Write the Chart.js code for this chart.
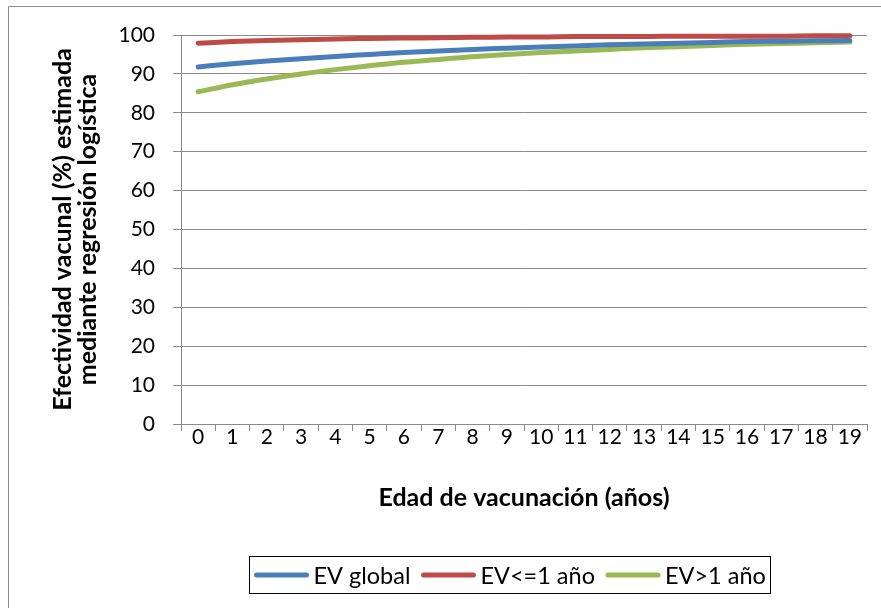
<!DOCTYPE html>
<html>
<head>
<meta charset="utf-8">
<script src="https://cdn.jsdelivr.net/npm/chart.js@4"></script>
<style>
  html, body { margin: 0; padding: 0; background: #fff; }
  #wrap { position: relative; width: 881px; height: 608px; overflow: hidden; }
  canvas { display: block; }
</style>
</head>
<body>
<div id="wrap"><canvas id="c" width="881" height="608"></canvas></div>
<script>
// ---- Data ----
const ages = ['0','1','2','3','4','5','6','7','8','9','10','11','12','13','14','15','16','17','18','19'];
const evGlobal = [91.8, 92.6, 93.3, 93.9, 94.5, 95.0, 95.5, 95.9, 96.3, 96.6, 96.9, 97.2, 97.5, 97.7, 97.9, 98.1, 98.3, 98.4, 98.5, 98.6];
const evMenorIgual1 = [97.9, 98.3, 98.6, 98.8, 99.0, 99.1, 99.2, 99.3, 99.4, 99.5, 99.5, 99.6, 99.6, 99.6, 99.7, 99.7, 99.7, 99.7, 99.8, 99.8];
const evMayor1 = [85.4, 87.2, 88.7, 90.0, 91.1, 92.1, 93.0, 93.7, 94.4, 95.0, 95.5, 95.9, 96.3, 96.7, 97.0, 97.3, 97.6, 97.8, 98.0, 98.2];
const seriesNames = ['EV global', 'EV<=1 año', 'EV>1 año'];
const yTitle = ['Efectividad vacunal (%) estimada', 'mediante regresión logística'];
const xTitle = 'Edad de vacunación (años)';

const FONT = 'Lato';
const GRID = '#8a8a8a';

const frame = {
  id: 'frame',
  beforeDraw(chart) {
    const ctx = chart.ctx;
    ctx.save();
    ctx.strokeStyle = '#8c8c8c';
    ctx.lineWidth = 1;
    ctx.beginPath();
    ctx.moveTo(8.5, 700); ctx.lineTo(8.5, 6.5); ctx.lineTo(900, 6.5);
    ctx.stroke();
    ctx.restore();
  }
};

const legendBox = {
  id: 'legendBox',
  afterDraw(chart) {
    const ctx = chart.ctx;
    ctx.save();
    ctx.font = '23.5px ' + FONT;
    const sample = 54, gap = 5, after = 11, pad = 5;
    const items = chart.data.datasets.map(d => ({ label: d.label, color: d.borderColor, w: ctx.measureText(d.label).width }));
    let total = pad;
    items.forEach((it, i) => { total += sample + gap + it.w + (i < items.length - 1 ? after : 0); });
    total += pad;
    const cx = 510, top = 556, h = 37;
    const left = Math.round(cx - total / 2) + 0.5;
    ctx.strokeStyle = '#000';
    ctx.lineWidth = 1;
    ctx.strokeRect(left, top + 0.5, Math.round(total), h);
    let x = left + pad;
    const cy = top + h / 2 + 0.5;
    items.forEach((it, i) => {
      ctx.strokeStyle = it.color;
      ctx.lineWidth = 5;
      ctx.lineCap = 'round';
      ctx.beginPath();
      ctx.moveTo(x + 2, cy); ctx.lineTo(x + sample - 2, cy);
      ctx.stroke();
      x += sample + gap;
      ctx.fillStyle = '#000';
      ctx.textBaseline = 'middle';
      ctx.textAlign = 'left';
      ctx.fillText(it.label, x, cy + 1);
      x += it.w + after;
    });
    ctx.restore();
  }
};

const mk = (label, data, color) => ({
  label, data,
  borderColor: color,
  backgroundColor: color,
  borderWidth: 5,
  borderCapStyle: 'round',
  borderJoinStyle: 'round',
  pointRadius: 0,
  pointHoverRadius: 0,
  cubicInterpolationMode: 'monotone',
  fill: false,
  clip: false
});

new Chart(document.getElementById('c'), {
  type: 'line',
  data: {
    labels: ages,
    datasets: [
      mk(seriesNames[0], evGlobal, '#4a7ebb'),
      mk(seriesNames[1], evMenorIgual1, '#be4b48'),
      mk(seriesNames[2], evMayor1, '#98b954')
    ]
  },
  options: {
    responsive: false,
    animation: false,
    events: [],
    layout: { padding: { left: 40, top: 35, right: 14, bottom: 94 } },
    plugins: { legend: { display: false }, tooltip: { enabled: false } },
    scales: {
      x: {
        type: 'category',
        offset: true,
        grid: { offset: true, drawOnChartArea: false, drawTicks: true, tickLength: 7, color: GRID, lineWidth: 1 },
        border: { display: true, color: GRID, width: 1 },
        ticks: { color: '#000', font: { family: FONT, size: 21 }, padding: -6, maxRotation: 0, autoSkip: false },
        title: { display: true, text: xTitle, color: '#000', font: { family: FONT, size: 25, weight: 'bold', lineHeight: 1.2 }, padding: { top: 0, bottom: 1 } },
        afterFit(scale) { scale.height = 90; }
      },
      y: {
        min: 0, max: 100,
        ticks: { stepSize: 10, color: '#000', font: { family: FONT, size: 21 }, padding: 18 },
        grid: { color: GRID, lineWidth: 1, tickLength: 8, drawTicks: true },
        border: { display: true, color: GRID, width: 1 },
        title: { display: true, text: yTitle, color: '#000', font: { family: FONT, size: 25, weight: 'bold', lineHeight: 1.0 }, padding: { top: 10, bottom: 0 } },
        afterFit(scale) { scale.width = 141; }
      }
    }
  },
  plugins: [frame, legendBox]
});
</script>
</body>
</html>
